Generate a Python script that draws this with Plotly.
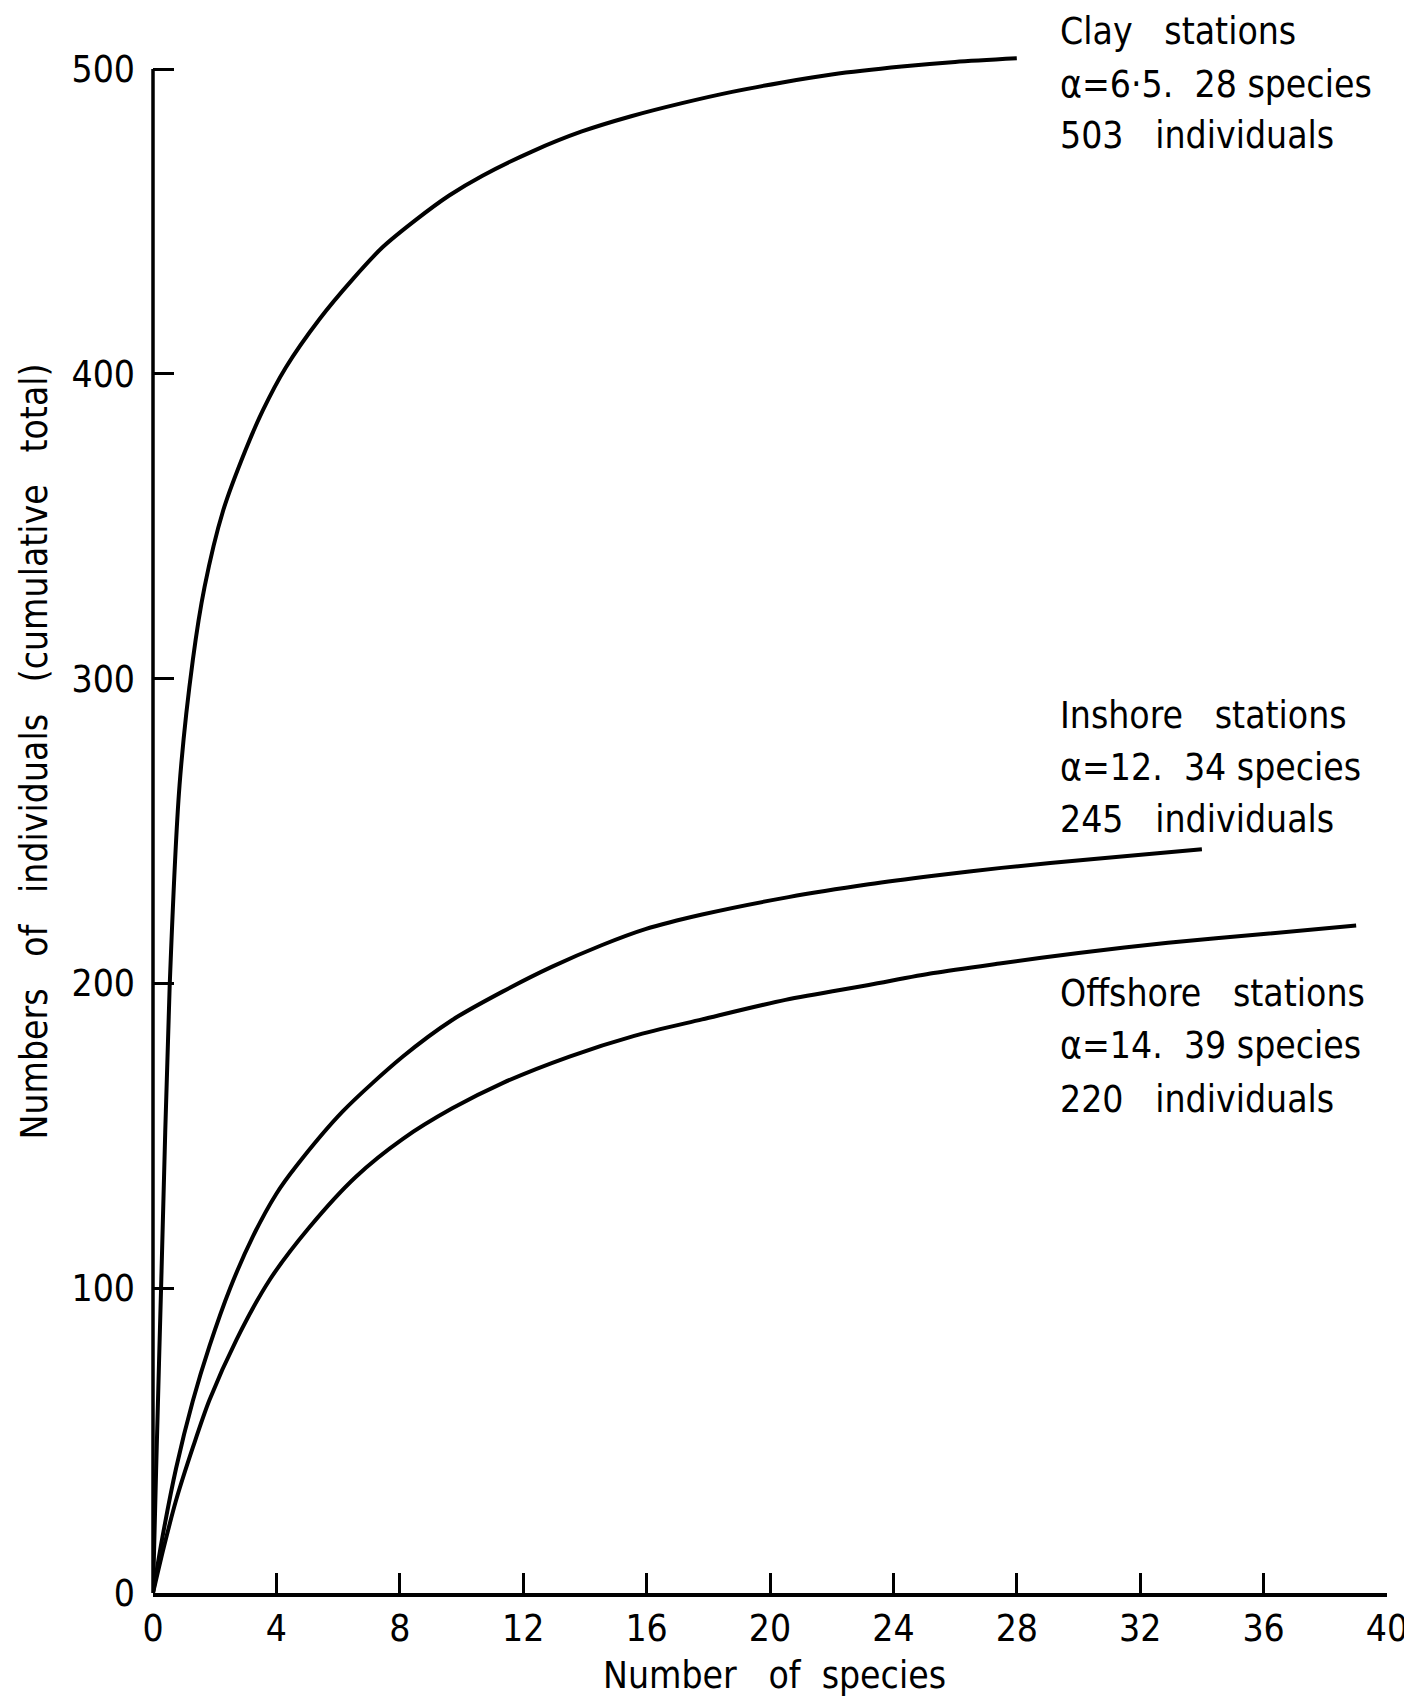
import plotly.graph_objects as go

# Number of species (x) vs cumulative number of individuals (y)
clay_species = [0, 0.1, 0.27, 0.54, 0.86, 1.29, 1.67, 2.27, 3.0, 3.56, 4.3, 5.4, 6.47, 7.44, 8.52,
                9.6, 10.68, 12.3, 13.9, 15.5, 17.15, 18.77, 20.4, 22.0, 24.27, 26.0, 28.0]
clay_indiv = [0, 40, 103, 199, 265, 306, 330, 355, 375, 388, 402, 418, 431, 441.5, 450.5,
              458.5, 465, 473, 479.5, 484.5, 488.8, 492.5, 495.6, 498.2, 500.8, 502.3, 503.5]

inshore_species = [0, 0.3, 0.75, 1.29, 1.83, 2.5, 3.24, 4.0, 4.64, 6.15, 8.1, 9.7, 11.33, 12.94,
                   14.56, 15.96, 17.8, 20.6, 23.2, 25.3, 27.5, 30.5, 34.0]
inshore_indiv = [0, 18, 41, 63, 81, 100, 117, 131, 140, 158, 176, 188, 197.3, 205.5,
                 212.6, 217.8, 222.6, 228.3, 232.5, 235.3, 237.9, 240.8, 244]

offshore_species = [0, 0.35, 0.75, 1.3, 1.83, 2.7, 3.78, 5.07, 6.57, 8.1, 9.7, 11.33, 13.5,
                    15.6, 17.8, 20.5, 23.2, 25.3, 27.5, 30.0, 32.9, 36.0, 39.0]
offshore_indiv = [0, 15, 30.5, 48, 63.3, 83, 102.7, 120, 136.5, 149, 159, 167.3, 176,
                  182.8, 188.2, 194.6, 199.5, 203.4, 206.6, 210, 213.3, 216.2, 219]

x_ticks = [0, 4, 8, 12, 16, 20, 24, 28, 32, 36, 40]
y_ticks = [0, 100, 200, 300, 400, 500]

NB = "\u00a0"
label_lines = [
    ["Clay" + NB * 3 + "stations", "\u03b1=6\u00b75." + NB * 2 + "28" + NB + "species", "503" + NB * 3 + "individuals"],
    ["Inshore" + NB * 3 + "stations", "\u03b1=12." + NB * 2 + "34" + NB + "species", "245" + NB * 3 + "individuals"],
    ["Offshore" + NB * 3 + "stations", "\u03b1=14." + NB * 2 + "39" + NB + "species", "220" + NB * 3 + "individuals"],
]
label_line_y = [[1.0046, 0.9704, 0.9376], [0.5644, 0.5309, 0.4975], [0.3855, 0.3520, 0.3173]]
label_x = 0.7333

FONT = "Liberation Sans Narrow, DejaVu Sans Condensed, Arial Narrow, sans-serif"
FS = 37

fig = go.Figure()
for xs, ys in [(clay_species, clay_indiv), (inshore_species, inshore_indiv), (offshore_species, offshore_indiv)]:
    fig.add_trace(go.Scatter(x=xs, y=ys, mode="lines",
                             line=dict(color="black", width=4, shape="spline", smoothing=0.8),
                             showlegend=False, hoverinfo="skip"))

annotations = []
for lines, ys in zip(label_lines, label_line_y):
    for t, yv in zip(lines, ys):
        annotations.append(dict(x=label_x, y=yv, xref="paper", yref="paper", text=t, showarrow=False,
                                xanchor="left", yanchor="middle", font=dict(family=FONT, size=FS, color="black")))

annotations.append(dict(x=0.5035, y=-0.0531, xref="paper", yref="paper",
                        text="Number" + NB * 3 + "of" + NB * 2 + "species", showarrow=False,
                        xanchor="center", yanchor="middle", font=dict(family=FONT, size=FS, color="black")))
annotations.append(dict(x=-0.0961, y=0.5418, xref="paper", yref="paper", textangle=-90,
                        text="Numbers" + NB * 3 + "of" + NB * 3 + "individuals" + NB * 3 + "(cumulative" + NB * 3 + "total)",
                        showarrow=False, xanchor="center", yanchor="middle",
                        font=dict(family=FONT, size=FS, color="black")))

y_top = 500 + 30 / 3.048

fig.update_layout(
    width=1412, height=1697,
    margin=dict(l=145, r=27, t=31, b=112),
    paper_bgcolor="white", plot_bgcolor="white",
    annotations=annotations,
    font=dict(family=FONT, size=FS, color="black"),
    shapes=[dict(type="line", xref="paper", yref="y", x0=0, x1=0, y0=0, y1=500,
                 line=dict(color="black", width=3.5))],
)
fig.update_xaxes(range=[0, 40], tickvals=x_ticks, ticktext=[str(v) for v in x_ticks],
                 showgrid=False, zeroline=False, showline=True, linecolor="black", linewidth=4,
                 ticks="inside", ticklen=20, tickwidth=3, tickcolor="black",
                 tickfont=dict(family=FONT, size=FS, color="black"))
fig.update_yaxes(range=[0, y_top], tickvals=y_ticks, ticktext=[str(v) for v in y_ticks],
                 showgrid=False, zeroline=False, showline=False,
                 ticks="inside", ticklen=21, tickwidth=3, tickcolor="black", ticklabelstandoff=17,
                 tickfont=dict(family=FONT, size=FS, color="black"))

fig.write_html("out.html")
